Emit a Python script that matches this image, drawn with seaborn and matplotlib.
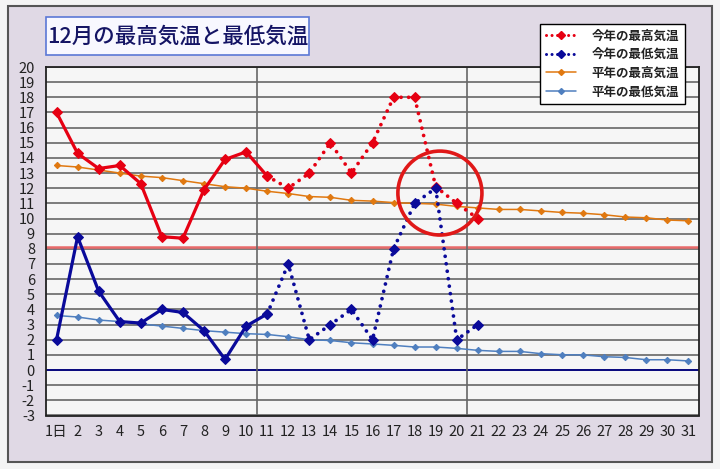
import numpy as np
import matplotlib
matplotlib.use("Agg")
import matplotlib.pyplot as plt
import seaborn as sns
from matplotlib.lines import Line2D
from matplotlib.patches import Ellipse, Rectangle

# ---------------- data ----------------
days = list(range(1, 32))
day_labels = ["1日"] + [str(d) for d in range(2, 32)]
max_this_year = [17.0, 14.3, 13.3, 13.5, 12.3, 8.8, 8.7, 11.9, 13.9, 14.4, 12.8,
                 12.0, 13.0, 15.0, 13.0, 15.0, 18.0, 18.0, 12.1, 11.0, 10.0]
min_this_year = [2.0, 8.8, 5.2, 3.2, 3.1, 4.0, 3.8, 2.6, 0.7, 2.9, 3.7,
                 7.0, 2.0, 3.0, 4.0, 2.0, 8.0, 11.0, 12.0, 2.0, 3.0]
max_normal = [13.5, 13.4, 13.2, 13.0, 12.8, 12.7, 12.5, 12.3, 12.1, 12.0, 11.8,
              11.65, 11.45, 11.4, 11.2, 11.15, 11.05, 11.0, 10.95, 10.8, 10.7,
              10.6, 10.6, 10.5, 10.4, 10.35, 10.25, 10.1, 10.05, 9.9, 9.85]
min_normal = [3.6, 3.5, 3.3, 3.2, 3.05, 2.9, 2.75, 2.6, 2.5, 2.4, 2.35,
              2.2, 2.0, 1.95, 1.8, 1.72, 1.63, 1.52, 1.52, 1.43, 1.3,
              1.23, 1.23, 1.08, 1.01, 1.0, 0.88, 0.83, 0.68, 0.68, 0.6]
solid_until = 11          # confirmed values up to day 11, dotted afterwards
reference_line = 8.15     # red horizontal reference
series_labels = ["今年の最高気温", "今年の最低気温", "平年の最高気温", "平年の最低気温"]
title = "12月の最高気温と最低気温"

RED = "#E60012"
NAVY = "#0A0A9A"
ORANGE = "#E07810"
LBLUE = "#4F7FBF"

sns.set_style("white")
plt.rcParams['font.family'] = ['Noto Sans CJK JP', 'DejaVu Sans']

W, H = 720, 469
fig = plt.figure(figsize=(W / 100, H / 100), dpi=100)
fig.patch.set_facecolor('#F4F4F4')

# lavender panel
fig.patches.append(Rectangle((8 / W, 1 - 462 / H), (712 - 8) / W, (462 - 6) / H,
                             transform=fig.transFigure, facecolor='#E0D9E5',
                             edgecolor='#555555', lw=1.5, zorder=-2))
# title box
fig.patches.append(Rectangle((46 / W, 1 - 55 / H), (309 - 46) / W, (55 - 17) / H,
                             transform=fig.transFigure, facecolor='#F8F8FF',
                             edgecolor='#5B78D6', lw=1.2, zorder=-1))
fig.text((46 + 309) / 2 / W, 1 - 36.5 / H, title, ha='center', va='center',
         fontsize=15.5, fontweight='medium', color='#141464', zorder=2)

ax = fig.add_axes([46 / W, 1 - 415.5 / H, 653 / W, (415.5 - 67) / H])
ax.set_zorder(1)
ax.set_facecolor('#F6F6F6')

# normals
sns.lineplot(x=days, y=max_normal, ax=ax, color=ORANGE, lw=1.1, marker='D',
             markersize=3.2, markeredgecolor=ORANGE, zorder=3)
sns.lineplot(x=days, y=min_normal, ax=ax, color=LBLUE, lw=1.1, marker='D',
             markersize=3.2, markeredgecolor=LBLUE, zorder=3)

dots = (0, (0.01, 2.0))
DLW = 2.7
n = len(max_this_year)
MS = 5.2
# this year's max
sns.lineplot(x=days[:solid_until], y=max_this_year[:solid_until], ax=ax, color=RED,
             lw=2.3, marker='D', markersize=MS, markeredgecolor=RED, zorder=4)
sns.lineplot(x=days[solid_until - 1:n], y=max_this_year[solid_until - 1:], ax=ax,
             color=RED, lw=DLW, linestyle=dots, dash_capstyle='round', marker='D',
             markersize=MS, markeredgecolor=RED, zorder=4)
# this year's min
sns.lineplot(x=days[:solid_until], y=min_this_year[:solid_until], ax=ax, color=NAVY,
             lw=2.3, marker='D', markersize=MS, markeredgecolor=NAVY, zorder=4)
sns.lineplot(x=days[solid_until - 1:n], y=min_this_year[solid_until - 1:], ax=ax,
             color=NAVY, lw=DLW, linestyle=dots, dash_capstyle='round', marker='D',
             markersize=MS, markeredgecolor=NAVY, zorder=4)

# reference lines
ax.axhline(0, color='#000080', lw=1.3, zorder=2)
ax.axhline(reference_line, color='#E86A6A', lw=1.8, zorder=2)
ax.axvline(10.5, color='#666666', lw=1.2, zorder=2)
ax.axvline(20.5, color='#666666', lw=1.2, zorder=2)

# highlight circle
ax.add_patch(Ellipse((19.2, 11.68), width=3.99, height=5.54, fill=False,
                     edgecolor='#E01818', lw=2.6, zorder=6))

# axes
ax.set_xlim(0.5, 31.5)
ax.set_ylim(-3, 20)
ax.set_yticks(range(-3, 21))
ax.set_yticklabels([str(v) for v in range(-3, 21)], fontsize=10.5, color='#222222')
ax.set_xticks(np.arange(0.5, 32, 1))
ax.set_xticklabels([])
ax.set_xticks(days, minor=True)
ax.set_xticklabels(day_labels, minor=True, fontsize=10.5, color='#222222')
ax.tick_params(axis='x', which='major', direction='out', length=5, width=1,
               color='#444444')
ax.tick_params(axis='x', which='minor', length=0, pad=6.5)
ax.tick_params(axis='y', direction='out', length=3, width=1, color='#444444', pad=5)
ax.yaxis.grid(True, color='#5A5A5A', lw=1.1)
ax.xaxis.grid(False)
ax.set_axisbelow(True)
ax.set_xlabel('')
ax.set_ylabel('')
for side in ['top', 'right', 'bottom', 'left']:
    ax.spines[side].set_visible(True)
    ax.spines[side].set_color('#222222')
    ax.spines[side].set_linewidth(1.3)

# legend
handles = [
    Line2D([], [], color=RED, lw=2.2, linestyle=(0, (0.01, 1.8)),
           dash_capstyle='round', marker='D', markersize=4.5),
    Line2D([], [], color=NAVY, lw=2.2, linestyle=(0, (0.01, 1.8)),
           dash_capstyle='round', marker='D', markersize=4.5),
    Line2D([], [], color=ORANGE, lw=1.1, marker='D', markersize=3),
    Line2D([], [], color=LBLUE, lw=1.1, marker='D', markersize=3),
]
leg = fig.legend(handles, series_labels, loc='upper right',
                 bbox_to_anchor=(685 / W, 1 - 24 / H), frameon=True, fancybox=False,
                 edgecolor='black', framealpha=1, facecolor='white',
                 prop={'size': 9, 'weight': 'bold'}, handlelength=2.4,
                 handletextpad=1.3, labelspacing=0.45, borderpad=0.45,
                 borderaxespad=0)
leg.set_zorder(10)
leg.get_frame().set_linewidth(1.0)
for t in leg.get_texts():
    t.set_color('#222222')

fig.savefig('out.png', dpi=100, facecolor=fig.get_facecolor())
